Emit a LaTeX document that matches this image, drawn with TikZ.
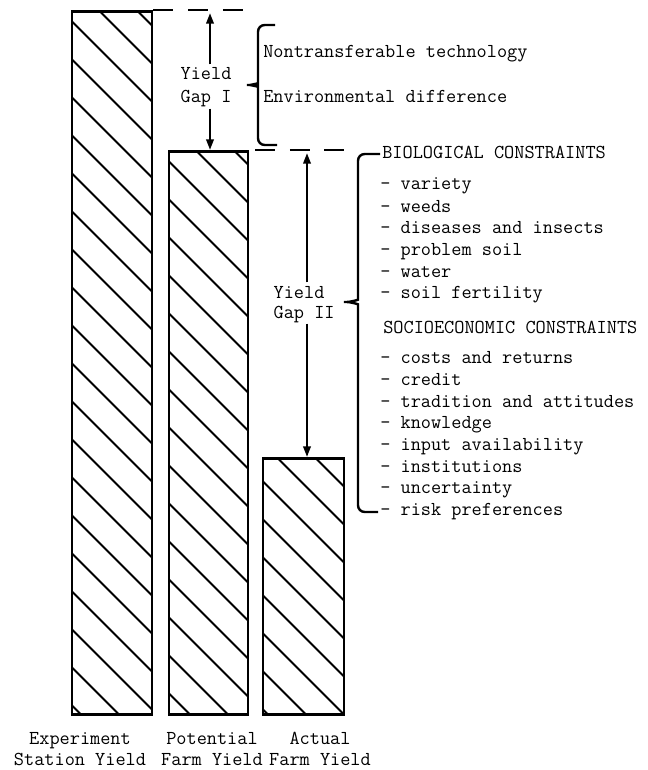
\documentclass[tikz,border=0pt]{standalone}
\usetikzlibrary{arrows.meta}

\begin{document}
\begin{tikzpicture}[x=0.75pt, y=-0.75pt,
  bar/.style={rectangle, draw=black, line width=2.2pt, anchor=south, inner sep=0pt},
  hatched/.style={path picture={\foreach \s in {0,...,24} \draw[line width=1.4pt] ([xshift={(#1+76-\s*38)*0.75pt}]path picture bounding box.north west) -- ++(800,800);}},
  dashline/.style={line width=1.8pt, dash pattern=on 15pt off 11pt},
  gaparrow/.style={line width=1.8pt, -{Triangle[length=8pt, width=5.5pt]}},
  bracket/.style={line width=1.8pt, rounded corners=5pt},
  txt/.style={font=\fontsize{14.8}{17}\selectfont\ttfamily, inner sep=0pt, anchor=west, text height=7.5pt, text depth=0pt},
  gaplabel/.style={txt, inner sep=4pt},
  barlabel/.style={font=\fontsize{14.8}{15.5}\selectfont\ttfamily, align=center, inner sep=0pt}]

\useasboundingbox (0,0) rectangle (648,770);

% the three bars
\node (bar1) [bar, hatched=28, minimum width=60pt, minimum height=527.25pt] at (112,716) {};
\node (bar2) [bar, hatched=28, minimum width=59.25pt, minimum height=422.25pt] at (208.5,716) {};
\node (bar3) [bar, hatched=15, minimum width=60.75pt, minimum height=192pt] at (303.5,716) {};

\node (explabel) [barlabel] at (80,749) {Experiment\\Station Yield};
\node (potlabel) [barlabel] at (212,749) {Potential\\Farm Yield};
\node (actlabel) [barlabel] at (320,749) {Actual\\Farm Yield};

% yield gap I
\coordinate (gaponetop) at (210,13);
\draw[dashline] (bar1.north east) -- (bar1.north east -| bar2.north east);
\node (yieldone) [gaplabel] at (175,75) {Yield};
\node (gapone) [gaplabel] at (175,98) {Gap I};
\draw[gaparrow] (yieldone.north -| gaponetop) -- (gaponetop);
\draw[gaparrow] (gapone.south -| gaponetop) -- (gaponetop |- bar2.north);

\draw[bracket] (275,25) -- (258,25) -- (258,77) .. controls (258,83) and (251,85) .. (243,85) .. controls (251,85) and (258,87) .. (258,93) -- (258,145) -- (277,145);
\node (nontrans) [txt] at (263,53) {Nontransferable technology};
\node (environ) [txt] at (263,98) {Environmental difference};

% yield gap II
\coordinate (gaptwotop) at (307,153);
\coordinate (bracetwotop) at (358,154);
\draw[dashline, dash phase=21.75pt] (bar2.north east) -- (bar2.north east -| bracetwotop);
\node (yieldtwo) [gaplabel] at (268,293) {Yield};
\node (gaptwo) [gaplabel] at (268,313) {Gap II};
\draw[gaparrow] (yieldtwo.north -| gaptwotop) -- (gaptwotop);
\draw[gaparrow] (gaptwo.south -| gaptwotop) -- (gaptwotop |- bar3.north);

\draw[bracket] (380,154) -- (bracetwotop) -- (358,293) .. controls (358,300) and (350,302) .. (340,302) .. controls (350,302) and (358,304) .. (358,311) -- (358,512) -- (378,512);

\node (biohead) [txt] at (382,153) {BIOLOGICAL CONSTRAINTS};
\node (variety) [txt] at (380,185) {- variety};
\node (weeds) [txt] at (380,207) {- weeds};
\node (diseases) [txt] at (380,228) {- diseases and insects};
\node (probsoil) [txt] at (380,250) {- problem soil};
\node (water) [txt] at (380,272) {- water};
\node (fertility) [txt] at (380,293) {- soil fertility};

\node (sociohead) [txt] at (383,328) {SOCIOECONOMIC CONSTRAINTS};
\node (costs) [txt] at (380,358) {- costs and returns};
\node (credit) [txt] at (380,380) {- credit};
\node (tradition) [txt] at (380,402) {- tradition and attitudes};
\node (knowledge) [txt] at (380,423) {- knowledge};
\node (input) [txt] at (380,445) {- input availability};
\node (institut) [txt] at (380,467) {- institutions};
\node (uncertain) [txt] at (380,488) {- uncertainty};
\node (risk) [txt] at (380,510) {- risk preferences};

\end{tikzpicture}
\end{document}
